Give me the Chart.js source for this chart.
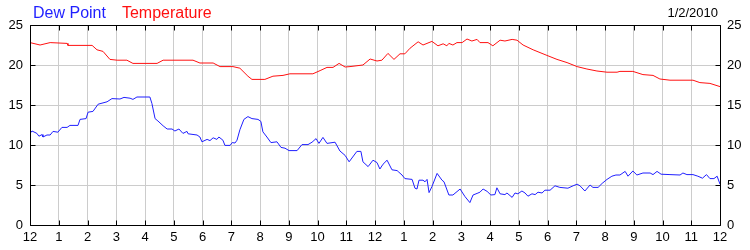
<!DOCTYPE html>
<html>
<head>
<meta charset="utf-8">
<script src="https://cdn.jsdelivr.net/npm/chart.js@4"></script>
<style>
  body { margin: 0; background: #fff; }
</style>
</head>
<body>
<canvas id="weatherChart" width="750" height="250"></canvas>
<script>
// hours since midnight, 1/2/2010
const tempHours = [0, 0.35, 0.7, 1.29, 1.32, 2.16, 2.33, 2.54, 2.78, 3.03, 3.37, 3.58, 4.42, 4.63, 5.67, 5.91, 6.37, 6.61, 7.06, 7.3, 7.58, 7.72, 8.17, 8.45, 8.8, 9.04, 9.84, 10.09, 10.33, 10.54, 10.75, 10.96, 11.13, 11.58, 11.83, 12.07, 12.24, 12.45, 12.66, 12.87, 13.04, 13.22, 13.5, 13.67, 13.98, 14.19, 14.37, 14.5, 14.57, 14.71, 14.85, 15.03, 15.2, 15.37, 15.55, 15.65, 15.93, 16.1, 16.35, 16.52, 16.77, 16.94, 17.15, 17.5, 17.98, 18.33, 18.68, 19.03, 19.37, 19.72, 20.07, 20.42, 20.52, 20.97, 21.32, 21.67, 21.91, 22.26, 23.06, 23.3, 23.65, 24];
const tempValues = [22.8, 22.5, 22.8, 22.7, 22.45, 22.45, 21.9, 21.7, 20.7, 20.6, 20.6, 20.2, 20.2, 20.6, 20.6, 20.25, 20.25, 19.8, 19.8, 19.6, 18.6, 18.2, 18.2, 18.6, 18.7, 18.9, 18.9, 19.3, 19.7, 19.7, 20.2, 19.75, 19.8, 20.0, 20.75, 20.5, 20.6, 21.45, 20.7, 21.4, 21.4, 22.1, 22.9, 22.5, 22.95, 22.4, 22.65, 22.4, 22.7, 22.5, 22.8, 22.8, 23.25, 23.0, 23.2, 22.8, 22.8, 22.4, 23.1, 23.0, 23.2, 23.1, 22.5, 21.9, 21.2, 20.7, 20.3, 19.8, 19.5, 19.25, 19.1, 19.1, 19.2, 19.2, 18.8, 18.7, 18.25, 18.1, 18.1, 17.8, 17.7, 17.3];

const dewHours = [0, 0.07, 0.24, 0.31, 0.42, 0.45, 0.59, 0.7, 0.8, 0.97, 1.11, 1.29, 1.39, 1.67, 1.74, 1.95, 2.02, 2.19, 2.37, 2.68, 2.85, 3.13, 3.27, 3.48, 3.58, 3.72, 4.17, 4.24, 4.35, 4.45, 4.63, 4.77, 4.94, 5.04, 5.18, 5.32, 5.46, 5.5, 5.81, 5.91, 5.98, 6.16, 6.26, 6.37, 6.5, 6.57, 6.71, 6.78, 6.96, 7.03, 7.13, 7.2, 7.3, 7.44, 7.58, 7.72, 7.93, 8.03, 8.1, 8.24, 8.38, 8.59, 8.73, 8.87, 9.01, 9.29, 9.46, 9.67, 9.81, 9.95, 10.05, 10.19, 10.33, 10.61, 10.78, 10.96, 11.1, 11.37, 11.51, 11.58, 11.76, 11.93, 12.07, 12.17, 12.28, 12.42, 12.59, 12.77, 12.83, 12.94, 13.04, 13.29, 13.39, 13.46, 13.53, 13.67, 13.74, 13.81, 13.88, 13.98, 14.16, 14.33, 14.4, 14.57, 14.71, 14.96, 15.13, 15.3, 15.41, 15.55, 15.65, 15.76, 15.9, 16.03, 16.17, 16.24, 16.35, 16.52, 16.59, 16.77, 16.87, 16.97, 17.11, 17.22, 17.32, 17.46, 17.57, 17.67, 17.81, 17.91, 18.09, 18.26, 18.43, 18.71, 18.89, 19.03, 19.13, 19.3, 19.48, 19.58, 19.76, 19.9, 20.07, 20.24, 20.38, 20.52, 20.7, 20.8, 20.97, 21.11, 21.32, 21.57, 21.67, 21.81, 21.95, 22.26, 22.61, 22.71, 22.85, 23.06, 23.23, 23.39, 23.53, 23.65, 23.79, 23.9, 24];
const dewValues = [11.45, 11.75, 11.45, 11.1, 11.3, 11.0, 11.25, 11.25, 11.7, 11.6, 12.2, 12.2, 12.45, 12.45, 13.2, 13.3, 14.1, 14.2, 15.1, 15.4, 15.8, 15.75, 15.95, 15.85, 15.7, 16.0, 16.0, 15.2, 13.3, 13.0, 12.4, 12.0, 12.0, 11.75, 12.0, 11.45, 11.7, 11.4, 11.25, 11.0, 10.4, 10.7, 10.55, 10.9, 10.7, 11.0, 10.6, 9.95, 9.95, 10.3, 10.25, 10.6, 11.9, 13.2, 13.55, 13.3, 13.2, 12.95, 11.65, 11.0, 10.3, 10.4, 9.7, 9.6, 9.3, 9.3, 10.05, 10.05, 10.35, 10.8, 10.2, 10.95, 10.2, 10.35, 9.25, 8.7, 7.9, 9.2, 9.2, 7.9, 7.3, 8.1, 7.8, 7.0, 7.6, 8.1, 6.9, 6.8, 6.6, 6.25, 5.8, 5.7, 4.6, 4.5, 5.6, 5.6, 5.4, 5.7, 4.05, 4.8, 6.45, 5.6, 5.4, 3.75, 3.75, 4.5, 3.55, 2.8, 3.75, 3.95, 4.1, 4.5, 4.2, 3.75, 3.8, 4.65, 3.9, 3.8, 4.0, 3.45, 4.0, 3.9, 4.25, 4.0, 3.6, 3.9, 3.8, 4.1, 4.0, 4.35, 4.35, 4.9, 4.7, 4.6, 4.9, 5.1, 4.9, 4.25, 5.0, 4.7, 4.7, 5.2, 5.7, 6.1, 6.25, 6.25, 6.7, 6.1, 6.75, 6.25, 6.5, 6.5, 6.3, 6.7, 6.35, 6.3, 6.25, 6.5, 6.3, 6.3, 6.1, 5.85, 6.3, 5.8, 5.8, 6.1, 5.1];

const hourTicks = [];
for (let h = 0; h <= 24; h++) hourTicks.push(h);
const valueTicks = [0, 5, 10, 15, 20, 25];
const dateLabel = '1/2/2010';
const seriesNames = ['Dew Point', 'Temperature'];
const seriesColors = ['#1f1fff', '#ff1010'];

function toPoints(xs, ys) {
    return xs.map((x, i) => ({ x: x, y: ys[i] }));
}

const font = 'Liberation Sans, Arial, sans-serif';

// frame, inner tick marks, legend text and date
const framePlugin = {
    id: 'frame',
    afterDraw(chart) {
        const ctx = chart.ctx;
        const a = chart.chartArea;
        const xs = chart.scales.x;
        const ys = chart.scales.y;
        ctx.save();
        ctx.strokeStyle = '#000';
        ctx.lineWidth = 1;
        const l = Math.round(a.left) + 0.5, r = Math.round(a.right) + 0.5;
        const t = Math.round(a.top) + 0.5, b = Math.round(a.bottom) + 0.5;
        ctx.beginPath();
        ctx.rect(l, t, r - l, b - t);
        hourTicks.forEach(h => {
            const px = Math.round(xs.getPixelForValue(h)) + 0.5;
            ctx.moveTo(px, b); ctx.lineTo(px, b - 5);
            ctx.moveTo(px, t); ctx.lineTo(px, t + 5);
        });
        valueTicks.forEach(v => {
            const py = Math.round(ys.getPixelForValue(v)) + 0.5;
            ctx.moveTo(l, py); ctx.lineTo(l + 5, py);
            ctx.moveTo(r, py); ctx.lineTo(r - 5, py);
        });
        ctx.stroke();

        ctx.font = '16px ' + font;
        ctx.textBaseline = 'alphabetic';
        ctx.textAlign = 'left';
        let x = 33;
        seriesNames.forEach((name, i) => {
            ctx.fillStyle = seriesColors[i];
            ctx.fillText(name, x, 18);
            x += ctx.measureText(name).width + 16;
        });
        ctx.font = '13px ' + font;
        ctx.fillStyle = '#000';
        ctx.textAlign = 'right';
        ctx.fillText(dateLabel, 718, 17);
        ctx.restore();
    }
};

const config = {
    type: 'line',
    data: {
        datasets: [{
            label: seriesNames[1],
            data: toPoints(tempHours, tempValues),
            borderColor: seriesColors[1],
            borderWidth: 1,
            pointRadius: 0,
            tension: 0
        }, {
            label: seriesNames[0],
            data: toPoints(dewHours, dewValues),
            borderColor: seriesColors[0],
            borderWidth: 1,
            pointRadius: 0,
            tension: 0
        }]
    },
    options: {
        responsive: false,
        animation: false,
        layout: { padding: { top: 25, left: 0, right: 0, bottom: 0 } },
        plugins: {
            legend: { display: false },
            tooltip: { enabled: false }
        },
        scales: {
            x: {
                type: 'linear',
                min: 0,
                max: 24,
                afterBuildTicks: s => { s.ticks = hourTicks.map(v => ({ value: v })); },
                afterFit: s => { s.height = 25; },
                grid: { color: '#cccccc', drawTicks: false },
                border: { display: false },
                ticks: {
                    padding: 5,
                    color: '#000',
                    font: { family: font, size: 13 },
                    maxRotation: 0,
                    autoSkip: false,
                    callback: v => (v % 12) || 12
                }
            },
            y: {
                min: 0,
                max: 25,
                afterBuildTicks: s => { s.ticks = valueTicks.map(v => ({ value: v })); },
                afterFit: s => { s.width = 30; },
                grid: { color: '#cccccc', drawTicks: false },
                border: { display: false },
                ticks: { padding: 7, color: '#000', font: { family: font, size: 13 } }
            },
            y2: {
                position: 'right',
                min: 0,
                max: 25,
                afterBuildTicks: s => { s.ticks = valueTicks.map(v => ({ value: v })); },
                afterFit: s => { s.width = 30; },
                grid: { display: false, drawTicks: false },
                border: { display: false },
                ticks: { padding: 7, color: '#000', font: { family: font, size: 13 } }
            }
        }
    },
    plugins: [framePlugin]
};

window.onload = function() {
    const ctx = document.getElementById('weatherChart').getContext('2d');
    window.weatherChart = new Chart(ctx, config);
};
</script>
</body>
</html>
